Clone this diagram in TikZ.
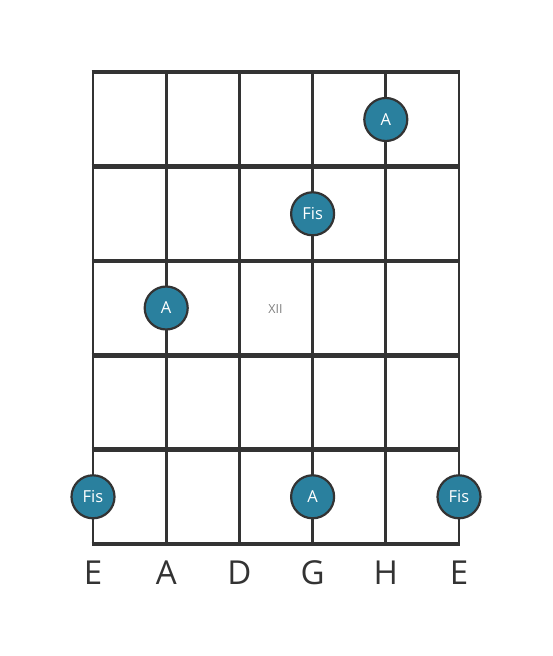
\documentclass[tikz,border=0pt]{standalone}
\usepackage{fontspec}
\setmainfont{Open Sans}
\definecolor{ink}{RGB}{51,51,51}
\definecolor{dot}{RGB}{42,128,158}
\begin{document}
\begin{tikzpicture}[x=1pt,y=-1pt,
  fret/.style={ink,line width=4.6pt},
  string/.style={ink,line width=2.8pt},
  note/.style={circle,fill=dot,draw=ink,line width=2.2pt,minimum size=43pt,inner sep=0pt,text=white,font=\fontsize{16.5}{18}\selectfont},
  strname/.style={text=ink,font=\fontsize{33}{36}\selectfont},
  fretno/.style={text=gray,font=\fontsize{12.5}{14}\selectfont}]
\useasboundingbox (0,0) rectangle (553,656);
\foreach \i/\x in {0/93,1/166.2,2/239.4,3/312.6,4/385.8,5/459} {
  \coordinate (st\i) at (\x,72);
  \coordinate (sb\i) at (\x,544);
  \draw[string] (st\i) -- (sb\i);
}
\foreach \j/\y in {0/72,1/166.4,2/260.8,3/355.2,4/449.6,5/544} {
  \coordinate (fl\j) at (91.6,\y);
  \coordinate (fr\j) at (460.4,\y);
  \draw[fret] (fl\j) -- (fr\j);
}
\node[fretno] (xii) at (275.5,309) {XII};
\node[note] (n1) at (385.8,119.5) {A};
\node[note] (n2) at (312.6,213.8) {Fis};
\node[note] (n3) at (166.2,308) {A};
\node[note] (n4) at (93,496.8) {Fis};
\node[note] (n5) at (312.6,496.8) {A};
\node[note] (n6) at (459,496.8) {Fis};
\foreach \i/\x/\t in {0/93/E,1/166.2/A,2/239.4/D,3/312.6/G,4/385.8/H,5/459/E}
  \node[strname] (lab\i) at (\x,573) {\t};
\end{tikzpicture}
\end{document}
